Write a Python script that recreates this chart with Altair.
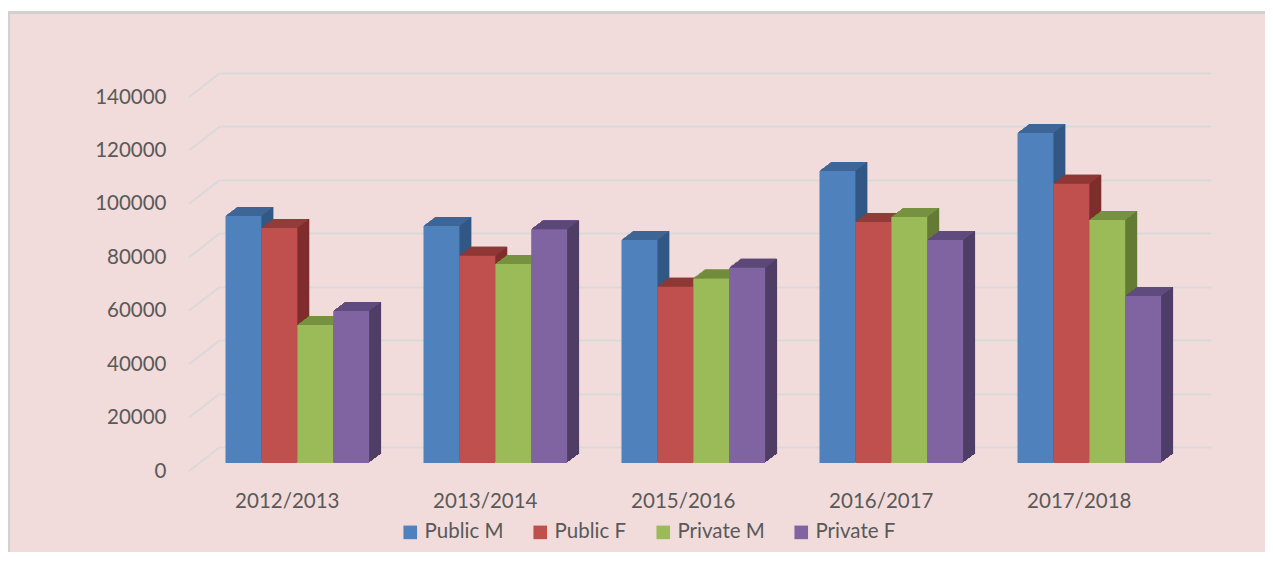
import altair as alt
import pandas as pd

# ---- data ----
years = ["2012/2013", "2013/2014", "2015/2016", "2016/2017", "2017/2018"]
series = ["Public M", "Public F", "Private M", "Private F"]
public_m = [92500, 88700, 83500, 109300, 123500]
public_f = [88000, 77600, 66000, 90200, 104500]
private_m = [51700, 74500, 69100, 92100, 91000]
private_f = [56900, 87500, 73100, 83500, 62500]
y_ticks = [0, 20000, 40000, 60000, 80000, 100000, 120000, 140000]

# ---- styling ----
front_colors = ["#4F81BD", "#C0504D", "#9BBB59", "#8064A2"]
top_colors = ["#3D6596", "#933B39", "#76913F", "#5F4B7D"]
side_colors = ["#335886", "#7E2E2C", "#657B35", "#4F3E67"]
FONT = "Lato"
FS = 20.5
TXT = "#595959"
GRID = "#D9D9D9"
BG = "#F2DCDB"
GROUP_PITCH = 5.515  # in bar widths
DX, DY = 12, 9       # 3-D depth in pixels

values = [public_m, public_f, private_m, private_f]
rows = []
for gi, yr in enumerate(years):
    for si, s in enumerate(series):
        x0 = gi * GROUP_PITCH + si
        rows.append({
            "year": yr, "series": s, "value": values[si][gi],
            "x0": x0, "x1": x0 + 1, "base": 0,
            "front": front_colors[si], "top": top_colors[si], "side": side_colors[si],
            "order": si,
        })
df = pd.DataFrame(rows)
lab = pd.DataFrame({"year": years, "xc": [gi * GROUP_PITCH + 2 for gi in range(len(years))], "base": 0})
ticks = pd.DataFrame({"t": y_ticks})

W, H = 991, 374
xs = alt.Scale(domain=[-0.153, 27.45], nice=False, zero=False)
ys = alt.Scale(domain=[0, 140000], nice=False)

YAXIS = alt.Axis(
    values=y_ticks, format="d", grid=True, gridColor=GRID, gridWidth=2,
    tickOffset=-16, labelOffset=24, domain=False, ticks=False, tickSize=0,
    labelPadding=54, labelFont=FONT, labelFontSize=FS, labelColor=TXT, title=None,
)


def Y(field):
    return alt.Y(field, scale=ys, axis=YAXIS, title=None)


X = alt.X("x0:Q", scale=xs, axis=None)
X2 = alt.X2("x1:Q")

base = alt.Chart(df)
layers = []

# decorative floor diagonals (left wall edge of 3-D grid)
diag = alt.Chart(ticks).mark_rule(color=GRID, strokeWidth=2, yOffset=8, y2Offset=-16).encode(
    x=alt.value(-31), x2=alt.value(0),
    y=Y("t:Q"), y2=alt.Y2("t:Q"),
)
layers.append(diag)

# side faces (stack of offset rects)
for j in range(DX, 0, -1):
    dy = int(j * DY / DX + 0.5)
    layers.append(
        base.mark_bar(xOffset=j, x2Offset=j, yOffset=-dy, y2Offset=-dy).encode(
            x=X, x2=X2,
            y=Y("value:Q"), y2=alt.Y2("base:Q"),
            color=alt.Color("side:N", scale=None),
            order=alt.Order("order:Q"),
        )
    )

# top faces (1px rows, offset diagonally)
for i in range(DY - 1, -1, -1):
    sx = int((i + 0.5) * DX / DY + 0.5)
    layers.append(
        base.mark_bar(xOffset=sx, x2Offset=sx, yOffset=-(i + 1), y2Offset=-i).encode(
            x=X, x2=X2,
            y=Y("value:Q"), y2=alt.Y2("value:Q"),
            color=alt.Color("top:N", scale=None),
            order=alt.Order("order:Q"),
        )
    )

# front faces with legend
front = base.mark_bar().encode(
    x=X, x2=X2,
    y=Y("value:Q"),
    y2=alt.Y2("base:Q"),
    color=alt.Color(
        "series:N",
        scale=alt.Scale(domain=series, range=front_colors),
        sort=series,
        legend=alt.Legend(
            title=None, orient="none", legendX=180, legendY=433, direction="horizontal",
            columns=4, symbolType="square", symbolSize=185, symbolStrokeWidth=0,
            labelFont=FONT, labelFontSize=FS, labelColor=TXT, labelOffset=4,
            columnPadding=26, padding=0,
        ),
    ),
    order=alt.Order("order:Q"),
)
layers.append(front)

# category labels on the front plane
xlab = alt.Chart(lab).mark_text(
    font=FONT, fontSize=FS, color=TXT, dx=-10, dy=39, baseline="middle", align="center"
).encode(
    x=alt.X("xc:Q", scale=xs, axis=None),
    y=Y("base:Q"),
    text="year:N",
)
layers.append(xlab)

# chart frame (top white strip and thin gray border)
frame_top_white = alt.Chart(ticks).mark_rule(color="white", strokeWidth=4).encode(
    x=alt.value(-212), x2=alt.value(W + 54), y=alt.value(-79)
)
frame_top = alt.Chart(ticks).mark_rule(color="#D0D0D0", strokeWidth=1.5).encode(
    x=alt.value(-212), x2=alt.value(W + 54), y=alt.value(-76.5)
)
frame_left = alt.Chart(ticks).mark_rule(color="#D0D0D0", strokeWidth=1.5).encode(
    x=alt.value(-211), y=alt.value(-77), y2=alt.value(H + 89)
)
layers += [frame_top_white, frame_top, frame_left]

chart = alt.layer(*layers).properties(
    width=W, height=H,
    autosize=alt.AutoSizeParams(type="none"),
    padding={"left": 212, "top": 81, "right": 54, "bottom": 89},
    background=BG,
).configure_view(stroke=None)

chart.save("out.html", embed_options={"renderer": "svg", "actions": False})
